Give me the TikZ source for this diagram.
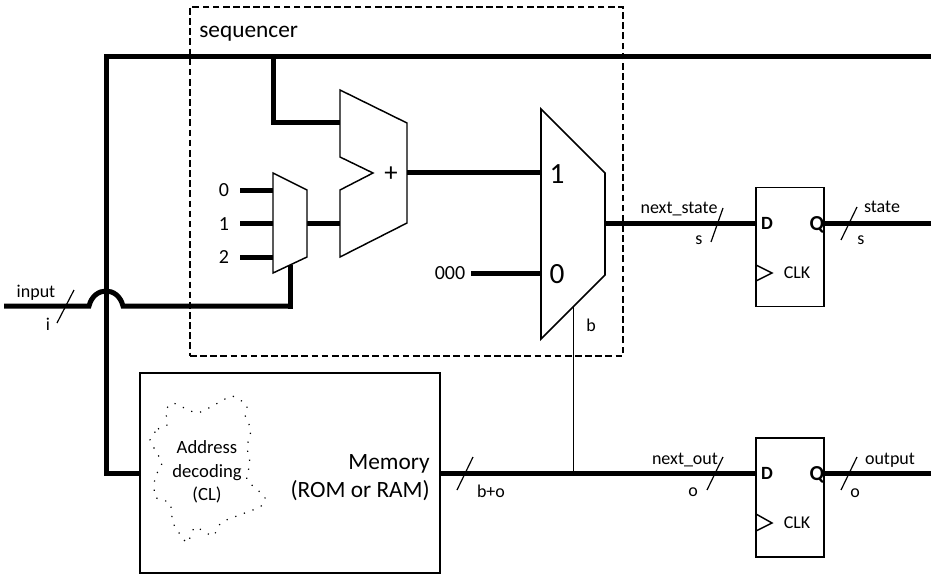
\documentclass[tikz,border=0pt]{standalone}
\usepackage{fontspec}
\setmainfont{Carlito}
\usetikzlibrary{calc}
\tikzset{
  bus/.style={line width=3.75pt},
  wirethin/.style={line width=0.7pt},
  outline/.style={line width=1.1pt, line join=miter},
  slash/.style={line width=0.9pt},
  label/.style={inner sep=0pt, font=\fontsize{13.5}{15}\selectfont},
  digit/.style={inner sep=0pt, font=\fontsize{15}{17}\selectfont},
  bigdigit/.style={inner sep=0pt, font=\fontsize{22}{24}\selectfont},
  pin/.style={inner sep=0pt, font=\fontsize{14}{16}\selectfont\bfseries},
  ff/.style={draw, line width=1.1pt, minimum width=51pt, minimum height=89pt, inner sep=0pt},
}
\begin{document}
\begin{tikzpicture}[x=0.75pt, y=-0.75pt]
  \useasboundingbox (0,0) rectangle (931,574);

  % sequencer frame
  \node[draw, dash pattern=on 5pt off 2.6pt, line width=0.8pt, minimum width=324.75pt, minimum height=261.75pt, inner sep=0pt] (seq) at (406.5,181.5) {};
  \node[inner sep=0pt, font=\fontsize{17.5}{19}\selectfont, anchor=west] (seqlabel) at (199,34) {sequencer};

  % flip-flops and memory
  \node[ff] (ff1) at (790,247) {};
  \node[ff] (ff2) at (790,497.5) {};
  \node[draw, line width=1.1pt, minimum width=225pt, minimum height=150pt, inner sep=0pt] (mem) at (290,473) {};

  % ports
  \coordinate (in0) at (4,306);
  \coordinate (j1) at (89,306);
  \coordinate (j2) at (123,306);
  \coordinate (sel) at (290,306);
  \coordinate (seltop) at (290,265);
  \coordinate (top0) at (106.5,56.5);
  \coordinate (top1) at (931,56.5);
  \coordinate (top2) at (273,56.5);
  \coordinate (top3) at (273,123);
  \coordinate (add1) at (340,123);
  \coordinate (add2) at (340,223);
  \coordinate (addout) at (407,173);
  \coordinate (low) at (106.5,473);
  \coordinate (muxa) at (541,173);
  \coordinate (muxb) at (541,273);
  \coordinate (muxout) at (605,223);
  \coordinate (zero) at (471,273);
  \coordinate (d1) at (756,223);
  \coordinate (q1) at (824,223);
  \coordinate (end1) at (931,223);
  \coordinate (d2) at (756,473);
  \coordinate (q2) at (824,473);
  \coordinate (end2) at (931,473);
  \coordinate (memout) at (440,473);
  \coordinate (bb) at (573,473);
  \coordinate (bt) at (573,307);
  \coordinate (s0a) at (240,190);
  \coordinate (s0b) at (273,190);
  \coordinate (s1a) at (240,223);
  \coordinate (s1b) at (273,223);
  \coordinate (s2a) at (240,257);
  \coordinate (s2b) at (273,257);
  \coordinate (smout) at (307,223);

  % wires
  \draw[bus, line join=miter] (top1) -- (top0) -- (low) -- (mem.west |- low);
  \draw[bus, line join=miter] (top2) -- (top3) -- (add1);
  \draw[bus] (in0) -- (j1) .. controls (94,286) and (118,286) .. (j2) -- (sel);
  \draw[bus] ($(sel)+(0,2.5)$) -- (seltop);
  \draw[bus] (s0a) -- (s0b);
  \draw[bus] (s1a) -- (s1b);
  \draw[bus] (s2a) -- (s2b);
  \draw[bus] (smout) -- (add2);
  \draw[bus] (addout) -- (muxa);
  \draw[bus] (zero) -- (muxb);
  \draw[bus] (muxout) -- (d1);
  \draw[bus] (q1) -- (end1);
  \draw[bus] (memout) -- (d2);
  \draw[bus] (q2) -- (end2);
  \draw[wirethin] (bb) -- (bt);

  % adder and muxes
  \draw[outline] (340,90) -- (407,123) -- (407,223) -- (340,257) -- (340,190) -- (373,173) -- (340,157) -- cycle;
  \draw[outline, fill=white] (273,173) -- (307,190) -- (307,257) -- (273,273) -- cycle;
  \draw[outline, line width=1.3pt] (541,109) -- (605,173) -- (605,275) -- (541,339) -- cycle;

  % clock marks
  \draw[outline] (756,265) -- (772,273) -- (756,281);
  \draw[outline] (756,514) -- (772,523) -- (756,531);

  % bus widths
  \draw[slash] (57,323) -- (74,290);
  \draw[slash] (711,242) -- (723,208);
  \draw[slash] (841,240) -- (857,207);
  \draw[slash] (457,490) -- (473,457);
  \draw[slash] (707,490) -- (723,457);
  \draw[slash] (841,490) -- (857,457);

  % address decoding cloud
  \draw[dash pattern=on 0.9pt off 6pt, line width=0.9pt] plot[smooth cycle, tension=0.3] coordinates {(150,440) (158,429) (167,425) (166,410) (173,403) (197,413) (218,403) (232,396) (247,405) (245,415) (251,430) (247,447) (250,463) (247,480) (265,497) (260,507) (222,522) (213,536) (195,527) (187,543) (173,523) (170,503) (155,497) (155,477) (162,463)};

  % labels
  \node[label] (inlabel) at (36,293) {input};
  \node[label] (ilabel) at (48,324) {i};
  \node[digit] (n0) at (224,190) {0};
  \node[digit] (n1) at (224,224) {1};
  \node[digit] (n2) at (224,257) {2};
  \node[inner sep=0pt, font=\fontsize{20}{22}\selectfont] (plus) at (391,174) {+};
  \node[digit] (n000) at (450,273) {000};
  \node[bigdigit] (m1) at (557,174) {1};
  \node[bigdigit] (m0) at (557,274) {0};
  \node[label] (blabel) at (591,325) {b};
  \node[label] (nslabel) at (679,209) {next\_state};
  \node[label] (s1label) at (699,240) {s};
  \node[label] (slabel) at (882,207) {state};
  \node[label] (s2label) at (861,240) {s};
  \node[label] (nolabel) at (685,460) {next\_out};
  \node[label] (o1label) at (693,492) {o};
  \node[label] (olabel) at (890,460) {output};
  \node[label] (o2label) at (855,493) {o};
  \node[label] (bolabel) at (491,491) {b+o};
  \node[pin] (d1label) at (767,223) {D};
  \node[pin, font=\fontsize{16}{18}\selectfont\bfseries] (q1label) at (817,225) {Q};
  \node[label] (c1label) at (797,273) {CLK};
  \node[pin] (d2label) at (767,473) {D};
  \node[pin, font=\fontsize{16}{18}\selectfont\bfseries] (q2label) at (817,475) {Q};
  \node[label] (c2label) at (797,523) {CLK};
  \node[inner sep=0pt, font=\fontsize{14}{17.5}\selectfont, align=center] (decode) at (207,472) {Address\\decoding\\(CL)};
  \node[inner sep=0pt, font=\fontsize{17.5}{21}\selectfont, align=right, anchor=east] (memlabel) at (430,478) {Memory\\(ROM or RAM)};
\end{tikzpicture}
\end{document}
